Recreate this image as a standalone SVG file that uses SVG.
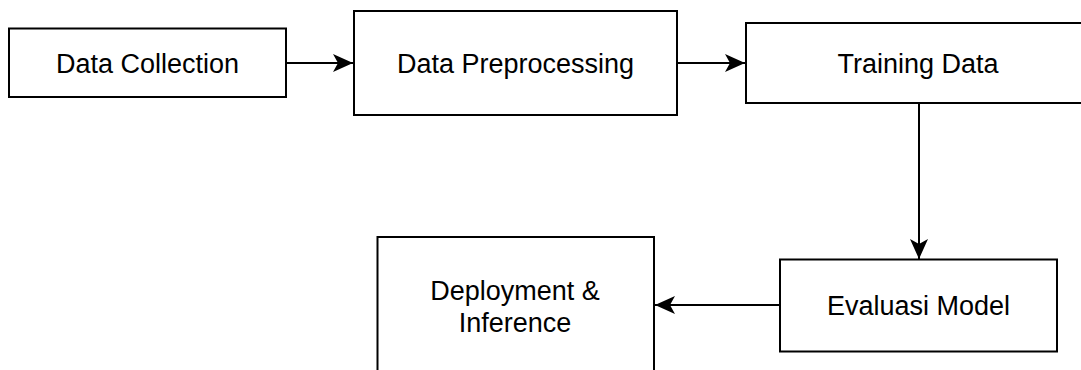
<svg xmlns="http://www.w3.org/2000/svg" width="1081" height="370" viewBox="0 0 1081 370">
  <style>
    .box { fill: #ffffff; stroke: #000000; stroke-width: 2; }
    .lbl { font-family: "Liberation Sans", Arial, Helvetica, sans-serif; font-size: 27px; fill: #000000; text-anchor: middle; }
    .edge { fill: none; stroke: #000000; stroke-width: 2; }
  </style>
  <defs>
    <marker id="arrow" markerUnits="userSpaceOnUse" markerWidth="20" markerHeight="20" refX="20" refY="10" orient="auto" viewBox="0 0 20 20">
      <path d="M0,1 L20,10 L0,19 L5,10 Z" fill="#000000"/>
    </marker>
  </defs>
  <rect width="1081" height="370" fill="#ffffff"/>
  <g id="connectors">
    <line class="edge" x1="286" y1="63" x2="353" y2="63" marker-end="url(#arrow)"/>
    <line class="edge" x1="677" y1="63" x2="745" y2="63" marker-end="url(#arrow)"/>
    <line class="edge" x1="919" y1="103" x2="919" y2="259" marker-end="url(#arrow)"/>
    <line class="edge" x1="780" y1="305" x2="655" y2="305" marker-end="url(#arrow)"/>
  </g>
  <g id="node-data-collection">
    <rect class="box" x="9" y="28.5" width="277" height="68.5"/>
    <text class="lbl" x="147.5" y="72.5">Data Collection</text>
  </g>
  <g id="node-data-preprocessing">
    <rect class="box" x="354" y="11" width="323" height="104"/>
    <text class="lbl" x="515.5" y="72.5">Data Preprocessing</text>
  </g>
  <g id="node-training-data">
    <rect class="box" x="746" y="23" width="346" height="80"/>
    <text class="lbl" x="918" y="72.5">Training Data</text>
  </g>
  <g id="node-evaluasi-model">
    <rect class="box" x="780" y="259.5" width="277" height="92"/>
    <text class="lbl" x="918.5" y="315">Evaluasi Model</text>
  </g>
  <g id="node-deployment">
    <rect class="box" x="377.5" y="237" width="276.5" height="140"/>
    <text class="lbl" x="515" y="300">Deployment &amp;</text>
    <text class="lbl" x="515" y="331.5">Inference</text>
  </g>
</svg>
